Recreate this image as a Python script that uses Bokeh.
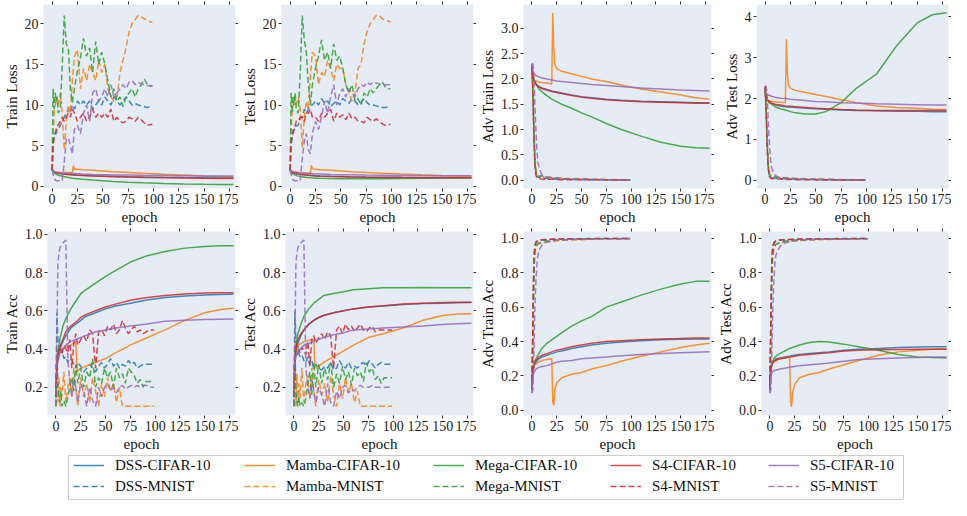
from bokeh.plotting import figure
from bokeh.models import FixedTicker, PrintfTickFormatter, LinearAxis, Legend, LegendItem, Spacer
from bokeh.layouts import column, row
from bokeh.embed import file_html
from bokeh.resources import INLINE

FONT = "Liberation Serif"
BG = "#E5ECF6"

models = ["DSS", "Mamba", "Mega", "S4", "S5"]
model_colors = ["#1f77b4", "#ff7f0e", "#2ca02c", "#d62728", "#9467bd"]
datasets = ["CIFAR-10", "MNIST"]

x_ticks = [0, 25, 50, 75, 100, 125, 150, 175]

cifar_epochs = [0, 1, 2, 4, 7, 10, 15, 20, 25, 30, 40, 50, 60, 75, 90, 110, 130, 150, 165, 179]
mamba_epochs = [0, 1, 2, 4, 7, 10, 15, 20, 21, 22, 23, 25, 30, 40, 50, 60, 75, 90, 110, 130, 150, 165, 179]
mnist_epochs = [0, 1, 2, 3, 4, 5, 6, 8, 10, 12, 14, 16, 18, 20, 22, 25, 28, 31, 34, 37, 40, 43, 46, 49,
                52, 55, 58, 61, 64, 67, 70, 73, 76, 79, 82, 85, 88, 91, 94, 97, 99]
mnist_adv_epochs = [0, 1, 2, 3, 4, 5, 6, 8, 10, 13, 16, 20, 25, 30, 40, 50, 60, 75, 90, 99]

# ---------------- Train Loss ----------------
train_loss_cifar = {
    "DSS": [2.1, 1.9, 1.8, 1.7, 1.6, 1.55, 1.5, 1.45, 1.4, 1.37, 1.32, 1.28, 1.25, 1.2, 1.17, 1.13, 1.1, 1.08, 1.07, 1.06],
    "Mamba": [2.1, 1.9, 1.85, 1.8, 1.75, 1.72, 1.7, 1.68, 2.55, 2.2, 2.12, 2.1, 2.05, 1.98, 1.9, 1.82, 1.72, 1.62, 1.5, 1.4, 1.3, 1.23, 1.18],
    "Mega": [2.1, 1.8, 1.65, 1.5, 1.35, 1.25, 1.12, 1.02, 0.95, 0.88, 0.78, 0.7, 0.62, 0.53, 0.45, 0.37, 0.31, 0.27, 0.25, 0.24],
    "S4": [2.1, 1.9, 1.8, 1.7, 1.6, 1.55, 1.48, 1.43, 1.38, 1.35, 1.3, 1.25, 1.2, 1.15, 1.1, 1.06, 1.03, 1.0, 0.99, 0.98],
    "S5": [2.1, 1.95, 1.85, 1.75, 1.7, 1.65, 1.6, 1.58, 1.55, 1.52, 1.48, 1.45, 1.42, 1.4, 1.37, 1.34, 1.32, 1.3, 1.29, 1.28],
}
train_loss_mnist = {
    "DSS": [2.0, 5.5, 6.0, 6.5, 6.5, 7.0, 7.0, 7.5, 8.0, 8.5, 9.0, 9.5, 9.0, 10.0, 9.5,
            10.5, 10.0, 10.5, 10.0, 10.5, 9.5, 10.0, 10.5, 10.0, 11.0, 10.5, 10.0, 11.0, 10.5, 10.0,
            10.5, 11.0, 10.5, 10.0, 10.2, 10.0, 9.9, 9.8, 9.7, 9.8, 9.8],
    "Mamba": [2.0, 6.0, 9.0, 10.0, 10.5, 11.0, 10.0, 11.5, 9.0, 4.5, 8.0, 10.0, 9.0, 13.0, 16.0,
              16.8, 12.0, 14.5, 13.0, 15.0, 14.0, 13.0, 15.5, 14.0, 15.0, 12.0, 11.0, 10.5, 11.0, 14.0,
              15.5, 17.0, 19.0, 20.0, 20.5, 21.0, 20.8, 20.6, 20.4, 20.2, 20.2],
    "Mega": [2.0, 12.0, 9.5, 11.5, 10.5, 11.0, 9.0, 9.5, 15.0, 21.0, 17.5, 17.0, 12.0, 10.3, 12.0,
             14.2, 15.8, 18.2, 16.0, 17.0, 14.0, 17.8, 15.0, 16.5, 15.0, 13.0, 11.0, 12.0, 10.5, 11.0,
             9.8, 11.0, 11.5, 12.0, 11.0, 12.0, 12.5, 13.2, 12.5, 12.4, 12.3],
    "S4": [2.0, 5.0, 6.0, 6.5, 7.0, 7.5, 7.5, 8.0, 8.5, 8.0, 8.5, 9.0, 8.5, 9.5, 9.0,
           8.0, 8.5, 9.0, 8.0, 8.5, 9.5, 8.5, 9.0, 8.5, 9.0, 8.5, 9.5, 8.0, 8.5, 8.0,
           7.8, 8.0, 8.5, 8.3, 8.0, 8.5, 8.2, 7.8, 7.5, 7.6, 7.6],
    "S5": [2.0, 1.5, 1.0, 0.8, 0.7, 0.7, 0.7, 0.7, 0.7, 3.0, 5.8, 6.0, 5.0, 4.0, 7.0,
           7.5, 6.5, 9.0, 10.0, 8.0, 11.5, 12.0, 10.5, 11.0, 12.0, 11.0, 12.5, 11.0, 11.5, 12.0,
           12.5, 12.0, 12.8, 13.0, 12.5, 12.8, 12.6, 12.5, 12.4, 12.3, 12.3],
}

# ---------------- Test Loss ----------------
test_loss_cifar = {
    "DSS": [2.1, 1.85, 1.75, 1.65, 1.55, 1.5, 1.43, 1.38, 1.33, 1.3, 1.25, 1.22, 1.19, 1.16, 1.14, 1.12, 1.11, 1.1, 1.1, 1.1],
    "Mamba": [2.1, 1.9, 1.85, 1.8, 1.75, 1.72, 1.68, 1.65, 2.6, 2.25, 2.15, 2.1, 2.05, 1.98, 1.9, 1.82, 1.72, 1.63, 1.52, 1.43, 1.35, 1.3, 1.27],
    "Mega": [2.1, 1.75, 1.6, 1.45, 1.3, 1.22, 1.12, 1.06, 1.02, 1.0, 0.97, 0.95, 0.95, 0.95, 0.96, 0.98, 1.0, 1.03, 1.05, 1.07],
    "S4": [2.1, 1.85, 1.75, 1.65, 1.55, 1.48, 1.4, 1.35, 1.3, 1.27, 1.22, 1.19, 1.16, 1.13, 1.11, 1.09, 1.08, 1.08, 1.08, 1.08],
    "S5": [2.1, 1.95, 1.85, 1.75, 1.7, 1.65, 1.6, 1.57, 1.54, 1.52, 1.48, 1.45, 1.43, 1.4, 1.38, 1.36, 1.34, 1.33, 1.32, 1.32],
}
test_loss_mnist = {
    "DSS": [2.0, 5.0, 6.0, 6.5, 7.0, 7.0, 7.5, 7.5, 8.5, 8.5, 9.5, 9.0, 9.5, 10.0, 10.0,
            10.5, 10.0, 10.8, 10.2, 10.5, 9.8, 10.2, 10.5, 10.0, 10.8, 10.5, 10.2, 10.8, 10.5, 10.0,
            10.3, 10.8, 10.3, 10.0, 10.0, 9.9, 9.8, 9.7, 9.7, 9.8, 9.8],
    "Mamba": [2.0, 6.5, 9.5, 10.0, 11.0, 10.5, 10.0, 11.0, 9.5, 4.8, 8.5, 10.5, 9.5, 13.5, 16.5,
              16.0, 12.5, 14.0, 13.5, 15.5, 14.5, 13.0, 15.0, 14.5, 14.5, 12.5, 11.5, 10.5, 11.5, 14.5,
              15.0, 17.5, 19.0, 20.0, 20.5, 21.0, 21.0, 20.6, 20.4, 20.3, 20.2],
    "Mega": [2.0, 11.5, 9.0, 11.0, 10.0, 11.5, 9.5, 9.0, 14.0, 21.0, 18.0, 16.5, 12.5, 10.0, 12.5,
             14.5, 16.0, 18.0, 15.5, 16.5, 14.5, 17.5, 15.5, 16.0, 14.5, 12.5, 11.5, 12.5, 10.5, 10.8,
             10.0, 11.5, 11.0, 12.0, 11.5, 12.0, 12.5, 12.8, 12.2, 12.0, 12.0],
    "S4": [2.0, 5.5, 6.0, 7.0, 7.0, 7.5, 8.0, 8.0, 8.5, 8.5, 8.0, 9.0, 9.0, 9.5, 8.5,
           8.5, 8.0, 9.0, 8.5, 9.0, 9.5, 8.0, 9.0, 8.5, 8.8, 8.2, 9.0, 8.3, 8.5, 8.0,
           8.0, 7.8, 8.5, 8.2, 8.0, 8.3, 8.0, 7.7, 7.5, 7.6, 7.6],
    "S5": [2.0, 1.5, 1.0, 0.8, 0.7, 0.7, 0.7, 0.7, 0.7, 3.5, 5.5, 6.5, 4.5, 4.0, 6.5,
           8.0, 7.0, 8.5, 10.5, 9.0, 11.0, 12.5, 10.0, 11.5, 12.0, 11.0, 12.0, 11.5, 11.0, 12.0,
           12.5, 12.3, 12.8, 12.5, 12.8, 12.7, 12.6, 12.5, 12.5, 12.5, 12.5],
}

# ---------------- Adv Train Loss ----------------
adv_train_loss_cifar = {
    "DSS": [2.2, 2.05, 1.98, 1.9, 1.85, 1.82, 1.79, 1.76, 1.74, 1.72, 1.68, 1.65, 1.63, 1.6, 1.58, 1.56, 1.55, 1.54, 1.53, 1.53],
    "Mamba": [2.05, 2.0, 1.98, 1.96, 1.94, 1.93, 1.92, 1.9, 3.3, 2.6, 2.3, 2.2, 2.15, 2.1, 2.05, 2.0, 1.95, 1.88, 1.8, 1.74, 1.68, 1.63, 1.6],
    "Mega": [2.15, 2.05, 1.98, 1.9, 1.8, 1.75, 1.67, 1.6, 1.55, 1.5, 1.42, 1.33, 1.25, 1.12, 1.0, 0.87, 0.75, 0.67, 0.64, 0.63],
    "S4": [2.25, 2.05, 1.97, 1.9, 1.84, 1.81, 1.78, 1.75, 1.73, 1.71, 1.67, 1.64, 1.62, 1.59, 1.57, 1.55, 1.54, 1.53, 1.52, 1.52],
    "S5": [2.3, 2.15, 2.1, 2.07, 2.04, 2.02, 2.0, 1.98, 1.96, 1.95, 1.93, 1.91, 1.89, 1.87, 1.85, 1.82, 1.8, 1.78, 1.77, 1.76],
}
adv_train_loss_mnist = {
    "DSS": [2.25, 1.8, 1.0, 0.4, 0.15, 0.08, 0.06, 0.05, 0.04, 0.04, 0.03, 0.03, 0.02, 0.02, 0.015, 0.01, 0.01, 0.01, 0.005, 0.005],
    "Mamba": [2.2, 1.8, 1.0, 0.45, 0.2, 0.12, 0.1, 0.08, 0.07, 0.06, 0.06, 0.05, 0.04, 0.04, 0.03, 0.025, 0.02, 0.015, 0.01, 0.01],
    "Mega": [2.2, 1.7, 0.9, 0.35, 0.15, 0.1, 0.08, 0.07, 0.1, 0.06, 0.05, 0.04, 0.04, 0.03, 0.025, 0.02, 0.015, 0.01, 0.01, 0.005],
    "S4": [2.3, 1.7, 0.8, 0.3, 0.1, 0.05, 0.03, 0.03, 0.02, 0.02, 0.02, 0.02, 0.015, 0.01, 0.01, 0.01, 0.01, 0.005, 0.005, 0.005],
    "S5": [2.3, 2.3, 2.1, 1.5, 1.0, 0.6, 0.35, 0.2, 0.1, 0.07, 0.06, 0.05, 0.04, 0.03, 0.02, 0.02, 0.015, 0.01, 0.01, 0.005],
}

# ---------------- Adv Test Loss ----------------
adv_test_loss_cifar = {
    "DSS": [2.2, 2.05, 1.98, 1.92, 1.88, 1.85, 1.82, 1.8, 1.79, 1.78, 1.76, 1.75, 1.74, 1.72, 1.71, 1.7, 1.69, 1.69, 1.68, 1.68],
    "Mamba": [2.1, 2.0, 1.97, 1.95, 1.93, 1.92, 1.91, 1.9, 3.45, 2.6, 2.35, 2.25, 2.2, 2.15, 2.1, 2.05, 1.97, 1.9, 1.82, 1.78, 1.76, 1.74, 1.73],
    "Mega": [2.2, 2.05, 1.97, 1.9, 1.85, 1.8, 1.75, 1.72, 1.68, 1.65, 1.62, 1.62, 1.68, 1.9, 2.25, 2.6, 3.3, 3.85, 4.05, 4.1],
    "S4": [2.3, 2.05, 1.97, 1.92, 1.88, 1.86, 1.84, 1.82, 1.81, 1.8, 1.78, 1.76, 1.75, 1.73, 1.72, 1.71, 1.71, 1.71, 1.71, 1.71],
    "S5": [2.2, 2.12, 2.1, 2.08, 2.05, 2.03, 2.01, 2.0, 1.98, 1.97, 1.95, 1.93, 1.92, 1.9, 1.89, 1.87, 1.86, 1.85, 1.84, 1.84],
}
adv_test_loss_mnist = {
    "DSS": [2.25, 1.8, 1.0, 0.4, 0.15, 0.08, 0.07, 0.06, 0.05, 0.05, 0.04, 0.04, 0.03, 0.03, 0.02, 0.02, 0.015, 0.01, 0.01, 0.01],
    "Mamba": [2.2, 1.8, 1.0, 0.45, 0.2, 0.13, 0.1, 0.09, 0.08, 0.07, 0.06, 0.06, 0.05, 0.05, 0.04, 0.03, 0.025, 0.02, 0.015, 0.01],
    "Mega": [2.2, 1.7, 0.9, 0.35, 0.16, 0.1, 0.09, 0.08, 0.09, 0.07, 0.06, 0.05, 0.05, 0.04, 0.03, 0.025, 0.02, 0.015, 0.01, 0.01],
    "S4": [2.3, 1.7, 0.8, 0.3, 0.1, 0.06, 0.04, 0.04, 0.03, 0.03, 0.03, 0.02, 0.02, 0.015, 0.015, 0.01, 0.01, 0.01, 0.005, 0.005],
    "S5": [2.3, 2.3, 2.1, 1.5, 1.0, 0.6, 0.35, 0.2, 0.12, 0.08, 0.07, 0.06, 0.05, 0.04, 0.03, 0.025, 0.02, 0.015, 0.01, 0.01],
}

# ---------------- Train Acc ----------------
train_acc_cifar = {
    "DSS": [0.18, 0.3, 0.35, 0.4, 0.44, 0.47, 0.51, 0.53, 0.55, 0.57, 0.59, 0.61, 0.625, 0.64, 0.655, 0.67, 0.678, 0.683, 0.685, 0.687],
    "Mamba": [0.3, 0.35, 0.37, 0.39, 0.4, 0.41, 0.42, 0.44, 0.32, 0.28, 0.29, 0.3, 0.31, 0.33, 0.35, 0.38, 0.42, 0.455, 0.5, 0.55, 0.59, 0.605, 0.615],
    "Mega": [0.15, 0.3, 0.38, 0.45, 0.52, 0.56, 0.61, 0.65, 0.69, 0.71, 0.745, 0.78, 0.81, 0.855, 0.885, 0.91, 0.928, 0.937, 0.94, 0.94],
    "S4": [0.2, 0.33, 0.37, 0.41, 0.45, 0.49, 0.52, 0.54, 0.565, 0.58, 0.6, 0.62, 0.635, 0.655, 0.668, 0.68, 0.688, 0.693, 0.695, 0.695],
    "S5": [0.3, 0.33, 0.35, 0.38, 0.4, 0.42, 0.44, 0.45, 0.46, 0.47, 0.49, 0.5, 0.51, 0.52, 0.53, 0.545, 0.55, 0.555, 0.556, 0.557],
}
train_acc_mnist = {
    "DSS": [0.10, 0.59, 0.45, 0.42, 0.40, 0.38, 0.40, 0.35, 0.36, 0.33, 0.35, 0.34, 0.32, 0.30, 0.33,
            0.31, 0.28, 0.30, 0.32, 0.30, 0.28, 0.31, 0.33, 0.30, 0.32, 0.35, 0.31, 0.33, 0.30, 0.32,
            0.31, 0.34, 0.32, 0.33, 0.30, 0.31, 0.32, 0.32, 0.32, 0.32, 0.32],
    "Mamba": [0.10, 0.28, 0.12, 0.25, 0.10, 0.20, 0.15, 0.28, 0.12, 0.20, 0.25, 0.15, 0.30, 0.20, 0.10,
              0.25, 0.15, 0.22, 0.12, 0.25, 0.18, 0.10, 0.22, 0.15, 0.25, 0.18, 0.22, 0.12, 0.20, 0.10,
              0.10, 0.10, 0.10, 0.10, 0.10, 0.10, 0.10, 0.10, 0.10, 0.10, 0.10],
    "Mega": [0.10, 0.40, 0.20, 0.15, 0.12, 0.18, 0.10, 0.13, 0.10, 0.15, 0.20, 0.25, 0.18, 0.32, 0.22,
             0.30, 0.20, 0.28, 0.25, 0.35, 0.20, 0.25, 0.22, 0.30, 0.25, 0.28, 0.20, 0.30, 0.25, 0.27,
             0.22, 0.30, 0.28, 0.26, 0.22, 0.24, 0.20, 0.23, 0.23, 0.23, 0.23],
    "S4": [0.15, 0.35, 0.33, 0.36, 0.38, 0.40, 0.37, 0.42, 0.40, 0.38, 0.45, 0.30, 0.43, 0.48, 0.42,
           0.45, 0.47, 0.44, 0.50, 0.48, 0.30, 0.49, 0.50, 0.47, 0.52, 0.50, 0.53, 0.48, 0.50, 0.55,
           0.51, 0.48, 0.50, 0.52, 0.49, 0.50, 0.48, 0.49, 0.50, 0.50, 0.50],
    "S5": [0.11, 0.50, 0.85, 0.90, 0.93, 0.94, 0.95, 0.96, 0.97, 0.35, 0.22, 0.15, 0.25, 0.20, 0.12,
           0.22, 0.18, 0.10, 0.20, 0.13, 0.10, 0.20, 0.15, 0.20, 0.22, 0.18, 0.20, 0.17, 0.20, 0.21,
           0.19, 0.20, 0.21, 0.20, 0.21, 0.20, 0.21, 0.21, 0.20, 0.20, 0.20],
}

# ---------------- Test Acc ----------------
test_acc_cifar = {
    "DSS": [0.18, 0.33, 0.38, 0.43, 0.47, 0.5, 0.53, 0.55, 0.565, 0.575, 0.59, 0.6, 0.61, 0.62, 0.625, 0.633, 0.638, 0.64, 0.642, 0.643],
    "Mamba": [0.3, 0.36, 0.39, 0.42, 0.43, 0.44, 0.445, 0.45, 0.33, 0.3, 0.3, 0.31, 0.33, 0.36, 0.39, 0.42, 0.46, 0.48, 0.51, 0.55, 0.575, 0.583, 0.585],
    "Mega": [0.15, 0.35, 0.42, 0.48, 0.53, 0.57, 0.61, 0.64, 0.66, 0.68, 0.69, 0.7, 0.71, 0.715, 0.72, 0.72, 0.722, 0.72, 0.72, 0.72],
    "S4": [0.2, 0.35, 0.4, 0.45, 0.48, 0.5, 0.53, 0.55, 0.565, 0.575, 0.59, 0.6, 0.61, 0.62, 0.627, 0.635, 0.64, 0.643, 0.645, 0.645],
    "S5": [0.3, 0.33, 0.36, 0.39, 0.4, 0.42, 0.43, 0.44, 0.45, 0.46, 0.475, 0.485, 0.5, 0.505, 0.51, 0.515, 0.52, 0.528, 0.532, 0.535],
}
test_acc_mnist = {
    "DSS": [0.10, 0.60, 0.45, 0.40, 0.42, 0.38, 0.36, 0.37, 0.34, 0.33, 0.36, 0.32, 0.34, 0.30, 0.32,
            0.30, 0.29, 0.31, 0.30, 0.33, 0.29, 0.30, 0.34, 0.31, 0.30, 0.33, 0.30, 0.31, 0.30, 0.32,
            0.33, 0.31, 0.34, 0.32, 0.30, 0.32, 0.33, 0.32, 0.32, 0.32, 0.32],
    "Mamba": [0.10, 0.30, 0.10, 0.27, 0.12, 0.22, 0.14, 0.30, 0.12, 0.22, 0.26, 0.14, 0.30, 0.18, 0.10,
              0.24, 0.16, 0.22, 0.12, 0.26, 0.16, 0.10, 0.22, 0.14, 0.25, 0.17, 0.22, 0.12, 0.18, 0.10,
              0.10, 0.10, 0.10, 0.10, 0.10, 0.10, 0.10, 0.10, 0.10, 0.10, 0.10],
    "Mega": [0.10, 0.42, 0.18, 0.12, 0.10, 0.15, 0.10, 0.12, 0.10, 0.14, 0.22, 0.28, 0.16, 0.33, 0.20,
             0.32, 0.22, 0.30, 0.24, 0.33, 0.20, 0.27, 0.22, 0.31, 0.24, 0.28, 0.21, 0.30, 0.26, 0.28,
             0.23, 0.33, 0.28, 0.30, 0.24, 0.26, 0.22, 0.25, 0.25, 0.25, 0.25],
    "S4": [0.15, 0.36, 0.35, 0.38, 0.37, 0.40, 0.38, 0.41, 0.39, 0.37, 0.44, 0.31, 0.45, 0.47, 0.43,
           0.46, 0.48, 0.45, 0.49, 0.47, 0.30, 0.50, 0.52, 0.48, 0.53, 0.50, 0.52, 0.49, 0.51, 0.53,
           0.50, 0.49, 0.51, 0.52, 0.49, 0.50, 0.50, 0.50, 0.50, 0.50, 0.50],
    "S5": [0.11, 0.50, 0.85, 0.90, 0.93, 0.94, 0.95, 0.96, 0.97, 0.30, 0.20, 0.14, 0.24, 0.18, 0.12,
           0.20, 0.16, 0.10, 0.22, 0.12, 0.10, 0.18, 0.14, 0.20, 0.21, 0.17, 0.19, 0.18, 0.20, 0.21,
           0.20, 0.20, 0.20, 0.21, 0.20, 0.20, 0.20, 0.20, 0.20, 0.20, 0.20],
}

# ---------------- Adv Train Acc ----------------
adv_train_acc_cifar = {
    "DSS": [0.15, 0.22, 0.26, 0.28, 0.3, 0.31, 0.32, 0.33, 0.34, 0.345, 0.36, 0.37, 0.38, 0.39, 0.398, 0.405, 0.41, 0.413, 0.415, 0.415],
    "Mamba": [0.2, 0.24, 0.26, 0.27, 0.28, 0.29, 0.295, 0.3, 0.05, 0.03, 0.12, 0.16, 0.19, 0.21, 0.22, 0.24, 0.26, 0.285, 0.315, 0.34, 0.365, 0.38, 0.39],
    "Mega": [0.2, 0.24, 0.27, 0.3, 0.33, 0.36, 0.39, 0.41, 0.43, 0.45, 0.49, 0.52, 0.545, 0.6, 0.63, 0.67, 0.705, 0.735, 0.75, 0.75],
    "S4": [0.15, 0.22, 0.26, 0.29, 0.31, 0.32, 0.33, 0.34, 0.35, 0.355, 0.37, 0.38, 0.39, 0.4, 0.405, 0.41, 0.415, 0.418, 0.42, 0.42],
    "S5": [0.1, 0.2, 0.22, 0.24, 0.25, 0.255, 0.26, 0.27, 0.28, 0.285, 0.29, 0.3, 0.305, 0.31, 0.318, 0.325, 0.33, 0.335, 0.338, 0.34],
}
adv_train_acc_mnist = {
    "DSS": [0.12, 0.5, 0.85, 0.95, 0.97, 0.98, 0.985, 0.99, 0.99, 0.99, 0.99, 0.995, 0.995, 0.995, 0.997, 0.998, 0.998, 0.999, 0.999, 0.999],
    "Mamba": [0.12, 0.5, 0.85, 0.93, 0.95, 0.96, 0.965, 0.97, 0.975, 0.975, 0.98, 0.98, 0.985, 0.99, 0.99, 0.992, 0.995, 0.997, 0.998, 0.998],
    "Mega": [0.12, 0.45, 0.8, 0.92, 0.95, 0.96, 0.97, 0.975, 0.98, 0.985, 0.985, 0.99, 0.99, 0.99, 0.995, 0.995, 0.997, 0.998, 0.998, 0.999],
    "S4": [0.12, 0.55, 0.9, 0.96, 0.98, 0.985, 0.99, 0.99, 0.992, 0.993, 0.994, 0.995, 0.996, 0.997, 0.998, 0.998, 0.999, 0.999, 0.999, 0.999],
    "S5": [0.1, 0.12, 0.35, 0.6, 0.75, 0.85, 0.9, 0.94, 0.96, 0.975, 0.98, 0.985, 0.99, 0.99, 0.995, 0.995, 0.997, 0.998, 0.998, 0.999],
}

# ---------------- Adv Test Acc ----------------
adv_test_acc_cifar = {
    "DSS": [0.15, 0.24, 0.27, 0.29, 0.3, 0.305, 0.31, 0.315, 0.32, 0.325, 0.33, 0.335, 0.34, 0.35, 0.355, 0.36, 0.365, 0.368, 0.37, 0.37],
    "Mamba": [0.2, 0.24, 0.27, 0.28, 0.29, 0.3, 0.305, 0.31, 0.05, 0.02, 0.1, 0.15, 0.19, 0.21, 0.22, 0.24, 0.265, 0.29, 0.32, 0.34, 0.35, 0.355, 0.36],
    "Mega": [0.15, 0.23, 0.27, 0.3, 0.32, 0.33, 0.345, 0.36, 0.37, 0.38, 0.395, 0.4, 0.398, 0.385, 0.37, 0.35, 0.325, 0.31, 0.307, 0.305],
    "S4": [0.12, 0.24, 0.27, 0.285, 0.295, 0.3, 0.305, 0.31, 0.315, 0.32, 0.325, 0.33, 0.335, 0.345, 0.35, 0.352, 0.354, 0.355, 0.355, 0.355],
    "S5": [0.1, 0.2, 0.22, 0.23, 0.235, 0.24, 0.245, 0.25, 0.255, 0.26, 0.265, 0.27, 0.275, 0.285, 0.295, 0.3, 0.305, 0.308, 0.31, 0.31],
}
adv_test_acc_mnist = {
    "DSS": [0.12, 0.5, 0.85, 0.95, 0.97, 0.98, 0.985, 0.988, 0.99, 0.99, 0.99, 0.993, 0.995, 0.995, 0.996, 0.997, 0.998, 0.998, 0.999, 0.999],
    "Mamba": [0.12, 0.5, 0.85, 0.92, 0.95, 0.96, 0.965, 0.97, 0.975, 0.975, 0.98, 0.98, 0.985, 0.988, 0.99, 0.992, 0.994, 0.996, 0.997, 0.998],
    "Mega": [0.12, 0.45, 0.8, 0.9, 0.94, 0.955, 0.965, 0.97, 0.975, 0.98, 0.985, 0.988, 0.99, 0.99, 0.993, 0.995, 0.996, 0.997, 0.998, 0.998],
    "S4": [0.12, 0.55, 0.9, 0.96, 0.975, 0.98, 0.985, 0.99, 0.99, 0.992, 0.993, 0.994, 0.995, 0.996, 0.997, 0.998, 0.998, 0.999, 0.999, 0.999],
    "S5": [0.1, 0.12, 0.35, 0.6, 0.75, 0.85, 0.9, 0.93, 0.95, 0.97, 0.975, 0.98, 0.985, 0.99, 0.993, 0.995, 0.996, 0.997, 0.998, 0.998],
}

panel_specs = [
    ("Train Loss", train_loss_cifar, train_loss_mnist, mnist_epochs, (-0.25, 22.35), [0, 5, 10, 15, 20], "%d"),
    ("Test Loss", test_loss_cifar, test_loss_mnist, mnist_epochs, (-0.25, 22.35), [0, 5, 10, 15, 20], "%d"),
    ("Adv Train Loss", adv_train_loss_cifar, adv_train_loss_mnist, mnist_adv_epochs, (-0.165, 3.47),
     [0, 0.5, 1.0, 1.5, 2.0, 2.5, 3.0], "%.1f"),
    ("Adv Test Loss", adv_test_loss_cifar, adv_test_loss_mnist, mnist_adv_epochs, (-0.2, 4.3), [0, 1, 2, 3, 4], "%d"),
    ("Train Acc", train_acc_cifar, train_acc_mnist, mnist_epochs, (0.052, 1.015), [0.2, 0.4, 0.6, 0.8, 1.0], "%.1f"),
    ("Test Acc", test_acc_cifar, test_acc_mnist, mnist_epochs, (0.052, 1.015), [0.2, 0.4, 0.6, 0.8, 1.0], "%.1f"),
    ("Adv Train Acc", adv_train_acc_cifar, adv_train_acc_mnist, mnist_adv_epochs, (-0.03, 1.04),
     [0.0, 0.2, 0.4, 0.6, 0.8, 1.0], "%.1f"),
    ("Adv Test Acc", adv_test_acc_cifar, adv_test_acc_mnist, mnist_adv_epochs, (-0.03, 1.04),
     [0.0, 0.2, 0.4, 0.6, 0.8, 1.0], "%.1f"),
]

LINE_W = 1.5
ALPHA = 0.85
DASH = "6 3"


def style_axis(ax, hide_labels=False):
    ax.axis_line_color = None
    ax.major_tick_line_color = "#333333"
    ax.major_tick_out = 3
    ax.major_tick_in = 0
    ax.minor_tick_line_color = None
    ax.major_label_text_font = FONT
    ax.major_label_text_font_size = "14px"
    ax.major_label_text_color = "#222222"
    ax.major_label_standoff = 2
    ax.axis_label_text_font = FONT
    ax.axis_label_text_font_size = "15px"
    ax.axis_label_text_font_style = "normal"
    ax.axis_label_text_color = "#111111"
    ax.axis_label_standoff = 2
    if hide_labels:
        ax.major_label_text_font_size = "0px"
        ax.major_label_text_alpha = 0
        ax.major_label_standoff = 0
        ax.axis_label_standoff = 0


def make_panel(ylabel, cifar, mnist, mnist_x, yr, yticks, yfmt, width):
    p = figure(width=width, height=227, x_range=(-8.5, 181), y_range=yr,
               output_backend="svg", toolbar_location=None,
               min_border_left=42, min_border_right=0, min_border_top=4, min_border_bottom=34)
    p.background_fill_color = BG
    p.border_fill_color = "white"
    p.outline_line_color = None
    p.grid.grid_line_color = None
    p.xaxis.ticker = FixedTicker(ticks=x_ticks)
    p.yaxis.ticker = FixedTicker(ticks=yticks)
    p.yaxis.formatter = PrintfTickFormatter(format=yfmt)
    p.xaxis.axis_label = "epoch"
    p.yaxis.axis_label = ylabel
    for ax in p.axis:
        style_axis(ax)
    top = LinearAxis(ticker=FixedTicker(ticks=x_ticks))
    style_axis(top, hide_labels=True)
    p.add_layout(top, "above")
    right = LinearAxis(ticker=FixedTicker(ticks=yticks))
    style_axis(right, hide_labels=True)
    p.add_layout(right, "right")
    for m, c in zip(models, model_colors):
        cx = mamba_epochs if m == "Mamba" else cifar_epochs
        p.line(cx, cifar[m], line_color=c, line_width=LINE_W, line_alpha=ALPHA)
        p.line(mnist_x, mnist[m], line_color=c, line_width=LINE_W, line_alpha=ALPHA, line_dash=DASH)
    return p


widths = [238, 238, 238, 237]
panels = [make_panel(*spec, widths[i % 4]) for i, spec in enumerate(panel_specs)]

# Legend: one small legend per model column, inside a bordered box
LEG_W, LEG_H = 837, 46
lf = figure(width=LEG_W, height=LEG_H, x_range=(0, 1), y_range=(0, 1), x_axis_type=None, y_axis_type=None,
            output_backend="svg", toolbar_location=None, min_border=1)
lf.outline_line_color = "#cccccc"
lf.outline_line_width = 1
lf.background_fill_color = "white"
lf.grid.visible = False
col_offsets = [5, 176, 365, 542, 700]
for m, c, xo in zip(models, model_colors, col_offsets):
    its = []
    for ds, dash in zip(datasets, ["solid", DASH]):
        r = lf.line(x=[-2, -1], y=[-2, -2], line_color=c, line_width=LINE_W, line_alpha=ALPHA, line_dash=dash)
        its.append(LegendItem(label=f"{m}-{ds}", renderers=[r]))
    lg = Legend(items=its, orientation="vertical", location=(xo, 4),
                label_text_font=FONT, label_text_font_size="15px", label_text_color="#111111",
                glyph_width=31, glyph_height=18, label_height=18, label_standoff=11,
                spacing=3, padding=0, margin=0,
                border_line_color=None, background_fill_alpha=0)
    lf.add_layout(lg)

layout = column(row(*panels[:4]), row(*panels[4:]), row(Spacer(width=67, height=LEG_H), lf))

open("out.html", "w").write(file_html(layout, INLINE))
